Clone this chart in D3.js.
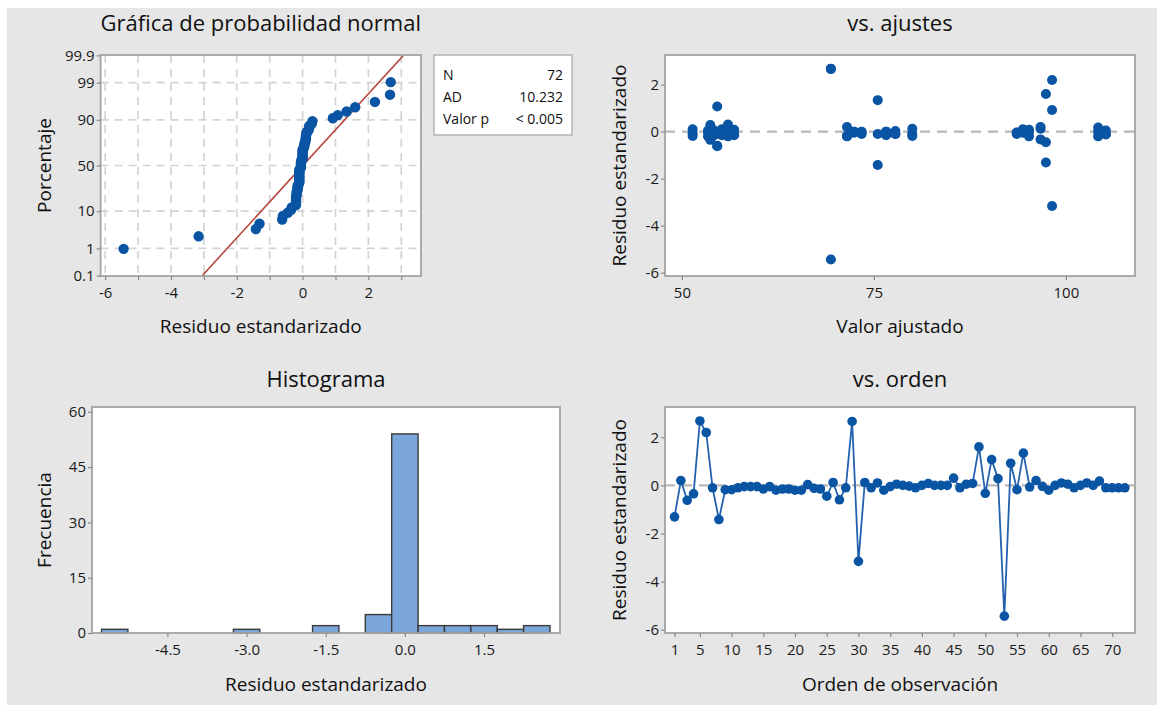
<!DOCTYPE html>
<html>
<head>
<meta charset="utf-8">
<script src="https://cdn.jsdelivr.net/npm/d3@7"></script>
<style>
  body { margin: 0; background: #fff; }
  svg { display: block; font-family: "Open Sans", "Noto Sans", sans-serif; }
  .title { font-size: 22px; fill: #111; }
  .axis-title { font-size: 19px; fill: #111; }
  .legend-text { font-size: 14px; fill: #111; }
</style>
</head>
<body>
<svg id="chart" width="1157" height="706"></svg>
<script>
// standardized residuals, in observation order (1..72)
const residuals = [
  -1.31, 0.2, -0.62, -0.35, 2.68, 2.2, -0.1, -1.42, -0.18, -0.18, -0.1, -0.05,
  -0.05, -0.05, -0.15, -0.05, -0.2, -0.15, -0.15, -0.2, -0.2, 0.03, -0.12, -0.15,
  -0.45, 0.12, -0.6, -0.1, 2.66, -3.16, 0.12, -0.1, 0.1, -0.2, -0.05, 0.05,
  0.0, -0.03, -0.1, 0.0, 0.08, 0.0, 0.0, 0.0, 0.3, -0.1, 0.05, 0.08,
  1.6, -0.33, 1.07, 0.28, -5.44, 0.92, -0.18, 1.34, -0.07, 0.2, -0.04, -0.2,
  0.0, 0.1, 0.05, -0.1, 0.0, 0.1, 0.0, 0.18, -0.1, -0.1, -0.1, -0.1,
];

// fitted values, same order
const fitted = [
  97.4, 96.7, 54.6, 53.7, 69.4, 98.2, 80.0, 75.5, 51.4, 71.5, 93.6, 53.4,
  72.4, 94.4, 54.2, 73.4, 95.2, 55.2, 76.6, 104.2, 56.0, 77.8, 105.2, 56.8,
  97.4, 96.7, 54.6, 53.7, 69.4, 98.2, 80.0, 75.5, 51.4, 71.5, 93.6, 53.4,
  72.4, 94.4, 54.2, 73.4, 95.2, 55.2, 76.6, 104.2, 56.0, 77.8, 105.2, 56.8,
  97.4, 96.7, 54.6, 53.7, 69.4, 98.2, 80.0, 75.5, 51.4, 71.5, 93.6, 53.4,
  72.4, 94.4, 54.2, 73.4, 95.2, 55.2, 76.6, 104.2, 56.0, 77.8, 105.2, 56.8,
];

// normal fit line used by the probability plot
const fitMean = 0.01;
const fitSd = 0.99;

// tick labels
const probTicks = [0.1, 1, 10, 50, 90, 99, 99.9];
const probGridPct = [1, 10, 50, 90, 99];
const probXTicks = [-6, -4, -2, 0, 2];
const probXGrid = [-6, -5, -4, -3, -2, -1, 0, 1, 2, 3];
const residTicks = [-6, -4, -2, 0, 2];
const fitTicks = [50, 75, 100];
const histXTicks = [-4.5, -3.0, -1.5, 0.0, 1.5];
const histYTicks = [0, 15, 30, 45, 60];
const histEdges = [-5.75, -5.25, -4.75, -4.25, -3.75, -3.25, -2.75, -2.25, -1.75,
  -1.25, -0.75, -0.25, 0.25, 0.75, 1.25, 1.75, 2.25, 2.75];
const orderTicks = [1, 5, 10, 15, 20, 25, 30, 35, 40, 45, 50, 55, 60, 65, 70];
const stats = [["N", "72"], ["AD", "10.232"], ["Valor p", "< 0.005"]];

const BLUE = "#0a54a4";
const FONT = "'Open Sans', 'Noto Sans', sans-serif";

// inverse normal cdf (Acklam)
function qnorm(p) {
  const a = [-39.69683028665376, 220.9460984245205, -275.9285104469687, 138.357751867269, -30.66479806614716, 2.506628277459239];
  const b = [-54.47609879822406, 161.5858368580409, -155.6989798598866, 66.80131188771972, -13.28068155288572];
  const c = [-0.007784894002430293, -0.3223964580411365, -2.400758277161838, -2.549732539343734, 4.374664141464968, 2.938163982698783];
  const d = [0.007784695709041462, 0.3224671290700398, 2.445134137142996, 3.754408661907416];
  const tail = (q) =>
    (((((c[0] * q + c[1]) * q + c[2]) * q + c[3]) * q + c[4]) * q + c[5]) /
    ((((d[0] * q + d[1]) * q + d[2]) * q + d[3]) * q + 1);
  if (p < 0.02425) return tail(Math.sqrt(-2 * Math.log(p)));
  if (p > 1 - 0.02425) return -tail(Math.sqrt(-2 * Math.log(1 - p)));
  const q = p - 0.5;
  const r = q * q;
  return ((((((a[0] * r + a[1]) * r + a[2]) * r + a[3]) * r + a[4]) * r + a[5]) * q) /
    (((((b[0] * r + b[1]) * r + b[2]) * r + b[3]) * r + b[4]) * r + 1);
}

const svg = d3.select("#chart");

// grey backdrop
svg.append("rect")
  .attr("x", 7).attr("y", 8)
  .attr("width", 1150).attr("height", 697)
  .attr("fill", "#e6e6e6");

function makePanel(box, id) {
  const g = svg.append("g").attr("transform", `translate(${box.x},${box.y})`);
  g.append("rect").attr("width", box.w).attr("height", box.h).attr("fill", "#fff");
  svg.append("clipPath").attr("id", id)
    .append("rect").attr("x", box.x).attr("y", box.y).attr("width", box.w).attr("height", box.h);
  return g;
}

function closeFrame(g, box) {
  g.append("rect")
    .attr("width", box.w).attr("height", box.h)
    .attr("fill", "none").attr("stroke", "#a4a4a4").attr("stroke-width", 1.8);
}

function styleAxis(axisG) {
  axisG.select(".domain").remove();
  axisG.attr("font-family", FONT).attr("font-size", 15);
  axisG.selectAll(".tick line").attr("stroke", "#8a8a8a").attr("stroke-width", 1.2);
  axisG.selectAll(".tick text").attr("fill", "#1a1a1a");
}

function addXAxis(g, box, scale, values, fmt) {
  const axisG = g.append("g")
    .attr("transform", `translate(0,${box.h})`)
    .call(d3.axisBottom(scale).tickValues(values).tickFormat(fmt).tickSize(4).tickPadding(7));
  styleAxis(axisG);
}

function addYAxis(g, scale, values, fmt) {
  const axisG = g.append("g")
    .call(d3.axisLeft(scale).tickValues(values).tickFormat(fmt).tickSize(4).tickPadding(2));
  styleAxis(axisG);
}

function addTitles(box, title, titleY, xTitle, xTitleY, yTitle, yTitleX) {
  svg.append("text").attr("class", "title")
    .attr("x", box.x + box.w / 2).attr("y", titleY)
    .attr("text-anchor", "middle").text(title);
  svg.append("text").attr("class", "axis-title")
    .attr("x", box.x + box.w / 2).attr("y", xTitleY)
    .attr("text-anchor", "middle").text(xTitle);
  svg.append("text").attr("class", "axis-title")
    .attr("transform", `translate(${yTitleX},${box.y + box.h / 2}) rotate(-90)`)
    .attr("text-anchor", "middle").attr("dominant-baseline", "central").text(yTitle);
}

/* normal probability plot */
function drawProbability() {
  const box = { x: 100.6, y: 55, w: 320.4, h: 221 };
  const g = makePanel(box, "clip-prob");

  const x = d3.scaleLinear().domain([-6.14, 3.6]).range([0, box.w]);
  const y = d3.scaleLinear().domain([-3.1, 3.1]).range([box.h, 0]);

  // dashed grid
  g.append("g").selectAll("line").data(probXGrid).enter().append("line")
    .attr("x1", (d) => x(d)).attr("x2", (d) => x(d))
    .attr("y1", 0).attr("y2", box.h)
    .attr("stroke", "#d4d4d4").attr("stroke-width", 1.7).attr("stroke-dasharray", "8,6");
  g.append("g").selectAll("line").data(probGridPct).enter().append("line")
    .attr("x1", 0).attr("x2", box.w)
    .attr("y1", (d) => y(qnorm(d / 100))).attr("y2", (d) => y(qnorm(d / 100)))
    .attr("stroke", "#d4d4d4").attr("stroke-width", 1.7).attr("stroke-dasharray", "8,6");

  // fitted normal line
  const zEnds = y.domain();
  g.append("line")
    .attr("clip-path", "url(#clip-prob)")
    .attr("transform", `translate(${-box.x},${-box.y})`)
    .attr("x1", box.x + x(fitMean + fitSd * zEnds[0])).attr("y1", box.y + y(zEnds[0]))
    .attr("x2", box.x + x(fitMean + fitSd * zEnds[1])).attr("y2", box.y + y(zEnds[1]))
    .attr("stroke", "#b5473f").attr("stroke-width", 1.6);

  // median-rank plotting positions
  const sorted = [...residuals].sort((a, b) => a - b);
  const n = sorted.length;
  g.append("g").selectAll("circle").data(sorted).enter().append("circle")
    .attr("cx", (d) => x(d))
    .attr("cy", (d, i) => y(qnorm((i + 1 - 0.3) / (n + 0.4))))
    .attr("r", 5.2)
    .attr("fill", BLUE);

  closeFrame(g, box);
  addXAxis(g, box, x, probXGrid, (d) => (probXTicks.includes(d) ? String(d) : ""));
  addYAxis(g, y, probTicks.map((p) => qnorm(p / 100)), (d, i) => String(probTicks[i]));
  addTitles(box, "Gráfica de probabilidad normal", 31, "Residuo estandarizado", 333, "Porcentaje", 44);

  // stats box
  const legend = svg.append("g").attr("transform", "translate(434,55)");
  legend.append("rect").attr("width", 138).attr("height", 80)
    .attr("fill", "#fff").attr("stroke", "#a4a4a4").attr("stroke-width", 1.2);
  stats.forEach((row, i) => {
    legend.append("text").attr("class", "legend-text")
      .attr("x", 9).attr("y", 25 + i * 22).text(row[0]);
    legend.append("text").attr("class", "legend-text")
      .attr("x", 129).attr("y", 25 + i * 22).attr("text-anchor", "end").text(row[1]);
  });
}

/* residuals vs fits */
function drawFits() {
  const box = { x: 665, y: 55, w: 470, h: 221 };
  const g = makePanel(box, "clip-fits");

  const x = d3.scaleLinear().domain([47.8, 109]).range([0, box.w]);
  const y = d3.scaleLinear().domain([-6.14, 3.26]).range([box.h, 0]);

  g.append("line")
    .attr("x1", 0).attr("x2", box.w).attr("y1", y(0)).attr("y2", y(0))
    .attr("stroke", "#b8b8b8").attr("stroke-width", 2.4).attr("stroke-dasharray", "10,7");

  g.append("g").selectAll("circle").data(residuals).enter().append("circle")
    .attr("cx", (d, i) => x(fitted[i]))
    .attr("cy", (d) => y(d))
    .attr("r", 5)
    .attr("fill", BLUE);

  closeFrame(g, box);
  addXAxis(g, box, x, fitTicks, (d) => String(d));
  addYAxis(g, y, residTicks, (d) => String(d));
  addTitles(box, "vs. ajustes", 31, "Valor ajustado", 333, "Residuo estandarizado", 619);
}

/* histogram */
function drawHistogram() {
  const box = { x: 92, y: 407, w: 468, h: 226 };
  const g = makePanel(box, "clip-hist");

  const x = d3.scaleLinear().domain([-5.93, 2.94]).range([0, box.w]);
  const y = d3.scaleLinear().domain([0, 61.3]).range([box.h, 0]);

  const bins = d3.bin()
    .domain([histEdges[0], histEdges[histEdges.length - 1]])
    .thresholds(histEdges)(residuals)
    .filter((b) => b.length > 0);

  g.append("g").selectAll("rect").data(bins).enter().append("rect")
    .attr("x", (d) => x(d.x0))
    .attr("y", (d) => y(d.length))
    .attr("width", (d) => x(d.x1) - x(d.x0))
    .attr("height", (d) => y(0) - y(d.length))
    .attr("fill", "#7ba6d9")
    .attr("stroke", "#3a3a3a")
    .attr("stroke-width", 1.4);

  closeFrame(g, box);
  addXAxis(g, box, x, histXTicks, (d) => d.toFixed(1));
  addYAxis(g, y, histYTicks, (d) => String(d));
  addTitles(box, "Histograma", 387, "Residuo estandarizado", 691, "Frecuencia", 44);
}

/* residuals vs order */
function drawOrder() {
  const box = { x: 665, y: 407, w: 470, h: 226 };
  const g = makePanel(box, "clip-order");

  const x = d3.scaleLinear().domain([-0.5, 73.6]).range([0, box.w]);
  const y = d3.scaleLinear().domain([-6.14, 3.26]).range([box.h, 0]);

  g.append("line")
    .attr("x1", 0).attr("x2", box.w).attr("y1", y(0)).attr("y2", y(0))
    .attr("stroke", "#b8b8b8").attr("stroke-width", 2.4).attr("stroke-dasharray", "10,7");

  const line = d3.line()
    .x((d, i) => x(i + 1))
    .y((d) => y(d));

  g.append("path")
    .datum(residuals)
    .attr("d", line)
    .attr("fill", "none")
    .attr("stroke", "#2461af")
    .attr("stroke-width", 1.8);

  g.append("g").selectAll("circle").data(residuals).enter().append("circle")
    .attr("cx", (d, i) => x(i + 1))
    .attr("cy", (d) => y(d))
    .attr("r", 4.8)
    .attr("fill", BLUE);

  closeFrame(g, box);
  addXAxis(g, box, x, orderTicks, (d) => String(d));
  addYAxis(g, y, residTicks, (d) => String(d));
  addTitles(box, "vs. orden", 387, "Orden de observación", 691, "Residuo estandarizado", 619);
}

drawProbability();
drawFits();
drawHistogram();
drawOrder();
</script>
</body>
</html>
